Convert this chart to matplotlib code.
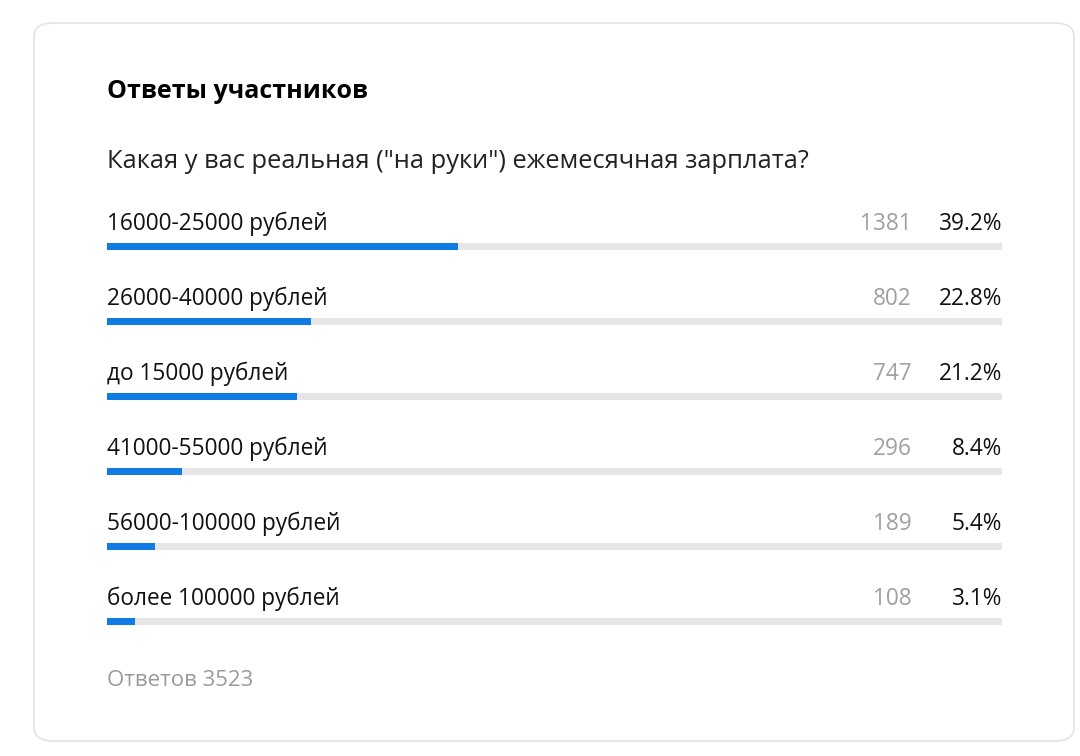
import matplotlib.pyplot as plt
from matplotlib.patches import FancyBboxPatch

plt.rcParams['font.family'] = ['Open Sans', 'DejaVu Sans']

    #Survey data
title    = 'Ответы участников'
question = 'Какая у вас реальная ("на руки") ежемесячная зарплата?'
labels   = ['16000-25000 рублей', '26000-40000 рублей', 'до 15000 рублей',
            '41000-55000 рублей', '56000-100000 рублей', 'более 100000 рублей']
counts   = [1381, 802, 747, 296, 189, 108]
percents = [39.2, 22.8, 21.2, 8.4, 5.4, 3.1]
total    = 3523

W, H = 1080, 756
fig = plt.figure(figsize=(W / 100, H / 100), dpi=100)
fig.patch.set_facecolor('white')

    #Card background (kept under the axes)
card = FancyBboxPatch((34 / W, 1 - 741 / H), 1040 / W, 718 / H,
                      boxstyle='round,pad=0,rounding_size=0.018',
                      transform=fig.transFigure, facecolor='white',
                      edgecolor='#e3e3e3', linewidth=1.2, zorder=-5)
fig.patches.append(card)

fig.text(107 / W, 1 - 92 / H, title, fontsize=18, fontweight='bold',
         color='#000000', va='center', ha='left')
fig.text(107 / W, 1 - 162 / H, question, fontsize=18.4,
         color='#222222', va='center', ha='left')

    #Bars axes: row i centred at pixel 246 + 75*i
row_h = 75
y0 = 246 - row_h / 2
y1 = 246 + row_h * (len(labels) - 0.5)
ax = fig.add_axes([107 / W, 1 - y1 / H, (1002 - 107) / W, (y1 - y0) / H])
ax.set_xlim(0, 100)
ax.set_ylim(len(labels) - 0.5, -0.5)
ax.axis('off')
ax.set_zorder(2)

ypos = list(range(len(labels)))
bh = 7 / row_h
ax.barh(ypos, [100] * len(labels), height=bh, color='#e6e6e6', left=0)
ax.barh(ypos, percents, height=bh, color='#0f7be3', left=0)

off = -22 / row_h
cnt_x = (912 - 107) / (1002 - 107) * 100
for i in ypos:
    ax.text(0, i + off, labels[i], fontsize=16.3, color='#111111',
            va='center', ha='left')
    ax.text(cnt_x, i + off, str(counts[i]), fontsize=16.3, color='#a0a0a0',
            va='center', ha='right')
    ax.text(100, i + off, '%.1f%%' % percents[i], fontsize=16.3,
            color='#111111', va='center', ha='right')

fig.text(107 / W, 1 - 680 / H, 'Ответов %d' % total, fontsize=16,
         color='#9a9a9a', va='center', ha='left')

fig.savefig('out.png', dpi=100, facecolor='white')
